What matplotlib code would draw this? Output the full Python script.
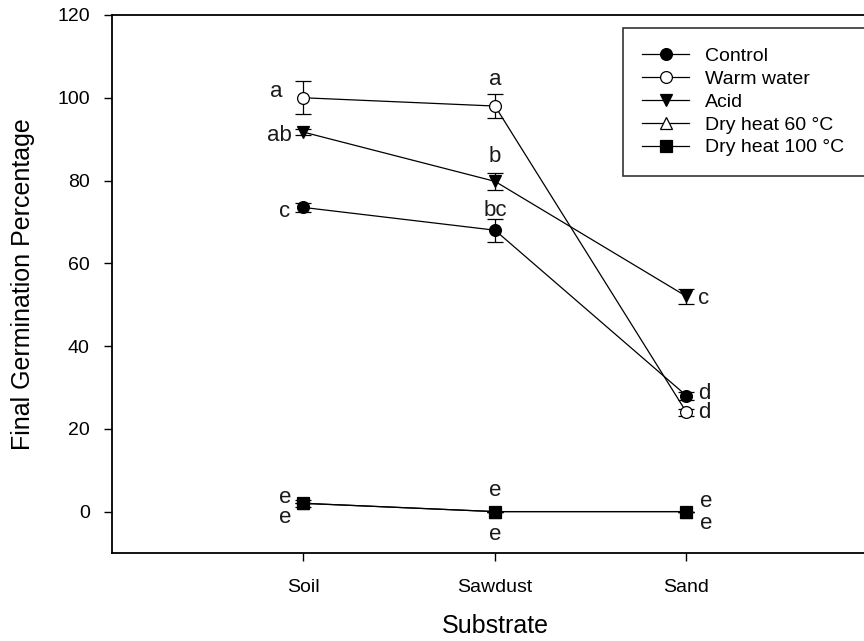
import matplotlib.pyplot as plt

plt.rcParams["font.family"] = ["Liberation Sans", "DejaVu Sans"]

substrates = ["Soil", "Sawdust", "Sand"]
x_pos = [1, 2, 3]

control = [73.5, 68.0, 28.0]
control_err = [1.0, 2.8, 1.0]
warm_water = [100.0, 98.0, 24.0]
warm_water_err = [4.0, 2.8, 0.8]
acid = [91.7, 79.8, 52.0]
acid_err = [0.8, 2.0, 1.8]
dry60 = [2.0, 0.0, 0.0]
dry60_err = [0.0, 0.0, 0.0]
dry100 = [2.0, 0.0, 0.0]
dry100_err = [0.8, 0.0, 0.0]

# significance letters, placed by their baseline: (x, y, text, ha)
letters = [
    (0.888, 100.3, "a", "right"),
    (0.94, 89.5, "ab", "right"),
    (0.93, 71.3, "c", "right"),
    (0.935, 2.2, "e", "right"),
    (0.935, -2.7, "e", "right"),
    (2.0, 103.1, "a", "center"),
    (2.0, 84.4, "b", "center"),
    (2.0, 71.5, "bc", "center"),
    (2.0, 3.7, "e", "center"),
    (2.0, -6.9, "e", "center"),
    (3.06, 50.2, "c", "left"),
    (3.06, 27.3, "d", "left"),
    (3.06, 22.7, "d", "left"),
    (3.07, 1.2, "e", "left"),
    (3.07, -4.3, "e", "left"),
]

fig = plt.figure(figsize=(8.64, 6.41), dpi=100)
ax = fig.add_axes([0.1296, 0.1373, 0.8866, 0.8393])

style = dict(color="black", lw=0.9, ms=8.5, capsize=5.5, elinewidth=0.9,
             capthick=0.9, mec="black", mew=0.9)
series = [
    ("Control", control, control_err, "o", "black"),
    ("Warm water", warm_water, warm_water_err, "o", "white"),
    ("Acid", acid, acid_err, "v", "black"),
    ("Dry heat 60 °C", dry60, dry60_err, "^", "white"),
    ("Dry heat 100 °C", dry100, dry100_err, "s", "black"),
]
handles = []
for name, vals, err, mk, fc in series:
    c = ax.errorbar(x_pos, vals, yerr=err, marker=mk, mfc=fc, label=name, **style)
    handles.append(c.lines[0])

for x, y, t, ha in letters:
    ax.text(x, y, t, ha=ha, va="baseline", fontsize=16, color="#1a1a1a")

ax.set_xlim(0, 4)
ax.set_ylim(-10, 120)
ax.set_xticks(x_pos)
ax.set_xticklabels(substrates)
ax.set_yticks(range(0, 121, 20))
ax.tick_params(direction="out", length=6, width=1, labelsize=14, pad=10)
ax.tick_params(axis="x", pad=13)
for sp in ax.spines.values():
    sp.set_linewidth(1.3)

ax.set_xlabel("Substrate", fontsize=18, labelpad=13)
ax.set_ylabel("Final Germination Percentage", fontsize=18, labelpad=16)

leg = ax.legend(handles=handles, labels=[s[0] for s in series],
                loc="upper left", mode="expand",
                bbox_to_anchor=(623 / 864, 0, 300 / 864, 1 - 28 / 641),
                bbox_transform=fig.transFigure, fontsize=14, frameon=True,
                fancybox=False, edgecolor="black", handlelength=2.4,
                handletextpad=0.8, labelspacing=0.27, borderpad=1.0,
                borderaxespad=0)
leg.get_frame().set_linewidth(1.2)

plt.savefig("out.png", dpi=100)
